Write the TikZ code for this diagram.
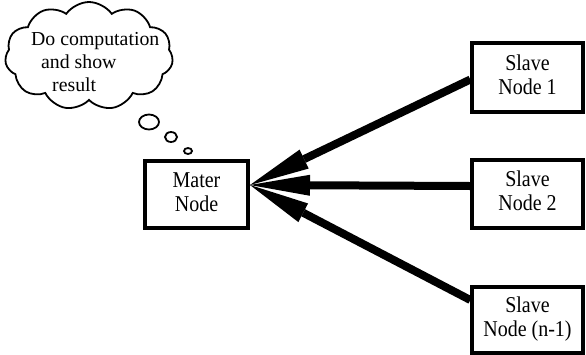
\documentclass[tikz,border=0pt]{standalone}
\usepackage{fontspec}
\setmainfont{Liberation Serif}
\usetikzlibrary{arrows.meta,shapes.symbols,shapes.geometric}
% two-line box label, set slightly tall
\newcommand{\tallbox}[1]{\scalebox{1}[1.13]{\renewcommand{\arraystretch}{1}%
  \begin{tabular}{@{}c@{}}#1\end{tabular}}}
\begin{document}
\begin{tikzpicture}[x=1pt,y=-1pt,
  box/.style={draw,line width=3.4pt,rectangle,align=center,inner sep=0pt,
    font=\fontsize{20}{21.3}\selectfont},
  bigarrow/.style={line width=8pt,
    -{Triangle[length=60pt,width=21pt,line width=0pt]}},
  bubble/.style={draw,line width=1.8pt,ellipse,inner sep=0pt}]
\useasboundingbox (0,0) rectangle (586,354);
% thought cloud
\node[cloud,draw,line width=1.8pt,cloud puffs=11,cloud puff arc=110,
  cloud ignores aspect,minimum width=168pt,minimum height=108pt]
  (cloud) at (89,56) {};
\node[align=left,inner sep=0pt,anchor=north west,
  font=\fontsize{19.8}{23}\selectfont] (thought) at (31,32)
  {Do computation\\\hspace{10pt}and show\\\hspace{21pt}result};
\node[bubble,minimum width=20pt,minimum height=15pt] (b1) at (149,122) {};
\node[bubble,minimum width=12pt,minimum height=10pt] (b2) at (171,137) {};
\node[bubble,minimum width=8pt,minimum height=6pt] (b3) at (188,151) {};
% master and slaves
\node[box,minimum width=103pt,minimum height=67pt] (mater) at (196.5,194.5) {\tallbox{Mater\\Node}};
\node[box,minimum width=111pt,minimum height=69pt] (s1) at (527.5,77.5) {\tallbox{Slave\\Node 1}};
\node[box,minimum width=111pt,minimum height=68pt] (s2) at (527.5,194) {\tallbox{Slave\\Node 2}};
\node[box,minimum width=111pt,minimum height=66pt] (s3) at (527.5,320) {\tallbox{Slave\\Node (n-1)}};
\coordinate (tip) at (250,185);
% messages to the master
\draw[bigarrow] ([yshift=-2pt]s1.west) -- (tip);
\draw[bigarrow] ([yshift=8pt]s2.west) -- (tip);
\draw[bigarrow] ([yshift=20pt]s3.west) -- (tip);
\end{tikzpicture}
\end{document}
